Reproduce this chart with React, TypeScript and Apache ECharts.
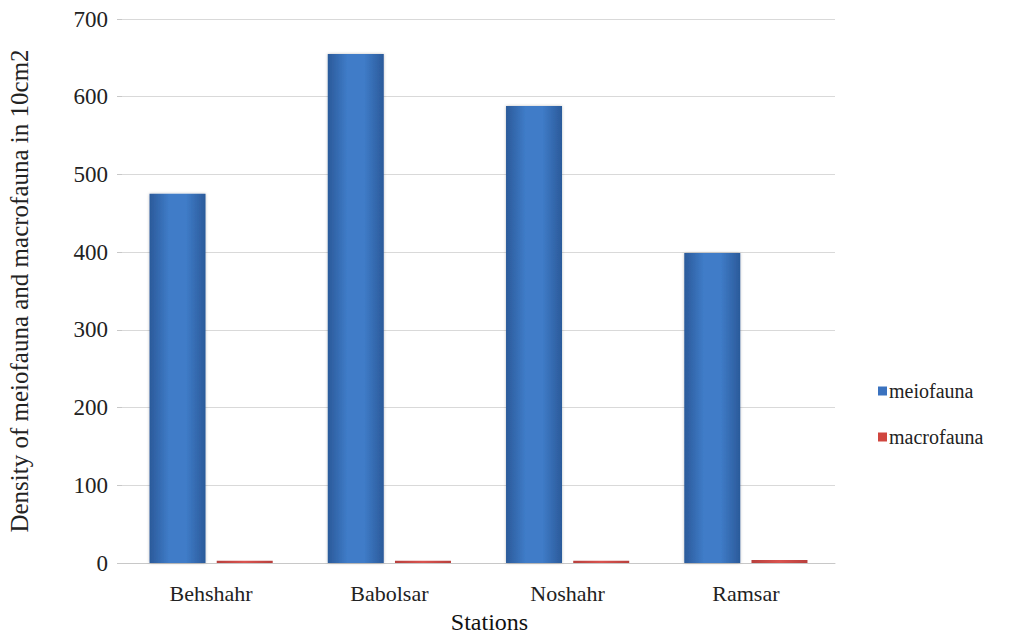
import React, { useEffect, useRef } from "react";
import * as echarts from "echarts";

const categories = ["Behshahr", "Babolsar", "Noshahr", "Ramsar"];
const meiofauna = [475, 655, 588, 399];
const macrofauna = [3, 3, 3, 4];
const yTicks = { min: 0, max: 700, interval: 100 };

const FONT = "Times New Roman, Liberation Serif, serif";

export default function App() {
  const ref = useRef<HTMLDivElement>(null);
  useEffect(() => {
    const chart = echarts.init(ref.current!, null, { renderer: "svg" });
    const blue = new echarts.graphic.LinearGradient(0, 0, 1, 0, [
      { offset: 0, color: "#2b5a9a" },
      { offset: 0.35, color: "#3f7cc8" },
      { offset: 0.65, color: "#3f7cc8" },
      { offset: 1, color: "#2b5a9a" },
    ]);
    const red = new echarts.graphic.LinearGradient(0, 0, 1, 0, [
      { offset: 0, color: "#b8403d" },
      { offset: 0.5, color: "#d9534f" },
      { offset: 1, color: "#b8403d" },
    ]);
    chart.setOption({
      animation: false,
      textStyle: { fontFamily: FONT },
      grid: { left: 122, right: 191, top: 19, bottom: 73, outerBoundsMode: "none", containLabel: false },
      legend: {
        orient: "vertical",
        left: 873,
        top: 376,
        itemWidth: 9,
        itemHeight: 9,
        itemGap: 26,
        icon: "rect",
        textStyle: { fontFamily: FONT, fontSize: 20, color: "#222", padding: [0, 0, 0, -3] },
        data: [
          { name: "meiofauna", itemStyle: { color: "#3a72bf" } },
          { name: "macrofauna", itemStyle: { color: "#d0463f" } },
        ],
      },
      xAxis: {
        type: "category",
        data: categories,
        name: "Stations",
        nameLocation: "middle",
        nameGap: 47,
        nameTextStyle: { fontFamily: FONT, fontSize: 24, color: "#111", padding: [0, 0, 0, 22] },
        axisLine: { lineStyle: { color: "#c8c8c8", width: 1 } },
        axisTick: { show: false },
        axisLabel: { fontFamily: FONT, fontSize: 22, color: "#222", margin: 19 },
      },
      yAxis: {
        type: "value",
        min: yTicks.min,
        max: yTicks.max,
        interval: yTicks.interval,
        name: "Density of meiofauna and macrofauna in 10cm2",
        nameLocation: "middle",
        nameGap: 90,
        nameTextStyle: { fontFamily: FONT, fontSize: 25, color: "#222" },
        axisLine: { show: false },
        axisTick: { show: true, length: 5, lineStyle: { color: "#c8c8c8" } },
        axisLabel: { fontFamily: FONT, fontSize: 23, color: "#222", margin: 14 },
        splitLine: { lineStyle: { color: "#d9d9d9", width: 1 } },
      },
      series: [
        {
          name: "meiofauna",
          type: "bar",
          data: meiofauna,
          barWidth: 56,
          barGap: "20%",
          itemStyle: { color: blue, shadowColor: "rgba(0,0,0,0.25)", shadowBlur: 3 },
        },
        {
          name: "macrofauna",
          type: "bar",
          data: macrofauna,
          barWidth: 56,
          itemStyle: { color: red },
        },
      ],
    });
    return () => chart.dispose();
  }, []);
  return (
    <div
      ref={ref}
      style={{ position: "absolute", left: 0, top: 0, width: 1026, height: 636 }}
    />
  );
}
